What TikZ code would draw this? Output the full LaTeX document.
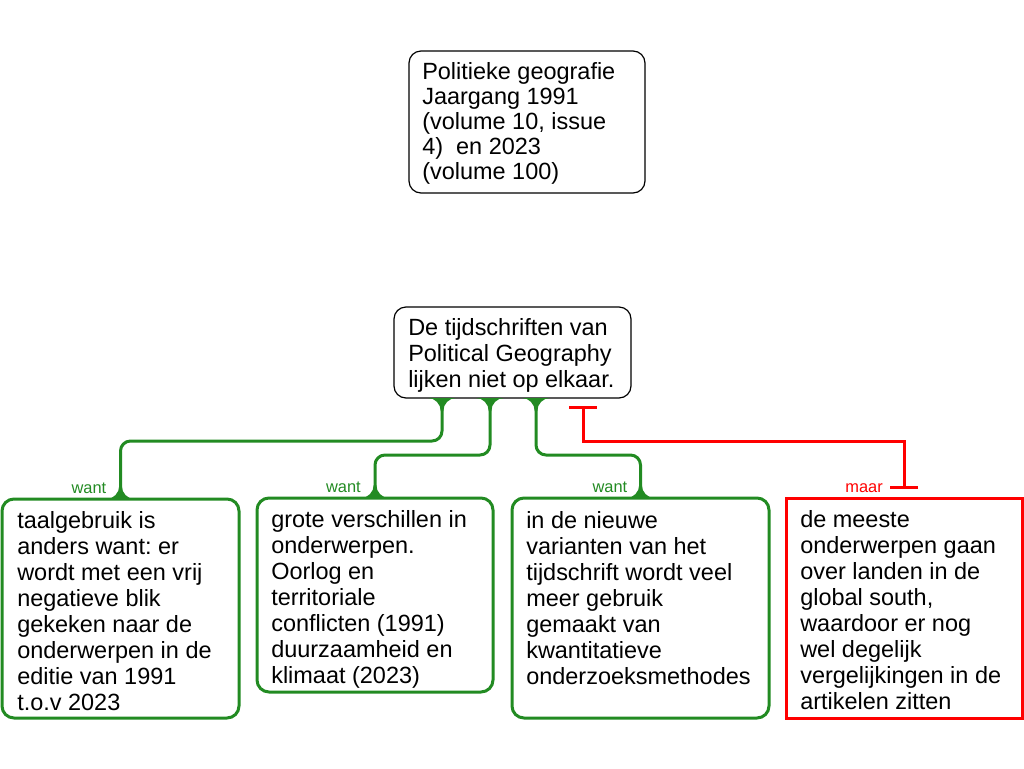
\documentclass[tikz,border=0pt]{standalone}
\usepackage{fontspec}
\setmainfont{Liberation Sans}
\usetikzlibrary{calc,arrows.meta}
\definecolor{wantgreen}{RGB}{34,139,34}
\definecolor{maarred}{RGB}{255,0,0}
\frenchspacing
\tikzset{
  boxbase/.style={draw,inner sep=0pt,outer sep=0pt},
  blackbox/.style={boxbase,draw=black,line width=0.9pt,rounded corners=9pt},
  greenbox/.style={boxbase,draw=wantgreen,line width=2.25pt,rounded corners=9pt},
  redbox/.style={boxbase,draw=maarred,line width=2.25pt},
  txt/.style={anchor=north west,inner sep=0pt,align=left,font=\fontsize{17.6pt}{19.5pt}\selectfont},
  lbl/.style={anchor=base east,inner sep=0pt,font=\fontsize{12.3pt}{14pt}\selectfont},
  wantline/.style={draw=wantgreen,line width=2.25pt,rounded corners=7.5pt},
  maarline/.style={draw=maarred,line width=2.25pt,arrows={Bar[width=21pt]-Bar[width=21pt]}},
  flarefill/.style={fill=wantgreen,draw=none}
}
% flare below a point (stem going down) and above a point (stem going up)
\newcommand\flaredn[1]{\path[flarefill,shift={(#1)}] (-14,0) .. controls (-7,0) and (-1.3,6) .. (-1.3,13) -- (1.3,13) .. controls (1.3,6) and (7,0) .. (14,0) -- cycle;}
\newcommand\flareupp[1]{\path[flarefill,shift={(#1)}] (-14,0) .. controls (-7,0) and (-1.3,-6) .. (-1.3,-13) -- (1.3,-13) .. controls (1.3,-6) and (7,0) .. (14,0) -- cycle;}
\begin{document}
\begin{tikzpicture}[x=0.75pt,y=-0.75pt]
\useasboundingbox[fill=white] (0,0) rectangle (1024,768);

% boxes
\node[blackbox,minimum width=177pt,minimum height=106.5pt] (src) at (527,122) {};
\node[txt,font=\fontsize{17.6pt}{18.75pt}\selectfont] (srctext) at (422,62)
  {Politieke geografie\\Jaargang 1991\\(volume 10, issue\\4)~ en 2023\\(volume 100)};

\node[blackbox,minimum width=177.75pt,minimum height=68.25pt] (claim) at (512.5,352.5) {};
\node[txt] (claimtext) at (408,318)
  {De tijdschriften van\\Political Geography\\lijken niet op elkaar.};

\node[greenbox,minimum width=177.75pt,minimum height=164.25pt] (box1) at (120.5,608.5) {};
\node[txt] (box1text) at (17,511)
  {taalgebruik is\\anders want: er\\wordt met een vrij\\negatieve blik\\gekeken naar de\\onderwerpen in de\\editie van 1991\\t.o.v 2023};

\node[greenbox,minimum width=177pt,minimum height=145.5pt] (box2) at (375,595) {};
\node[txt] (box2text) at (271,510)
  {grote verschillen in\\onderwerpen.\\Oorlog en\\territoriale\\conflicten (1991)\\duurzaamheid en\\klimaat (2023)};

\node[greenbox,minimum width=192.75pt,minimum height=165pt] (box3) at (640.5,608) {};
\node[txt] (box3text) at (526,511)
  {in de nieuwe\\varianten van het\\tijdschrift wordt veel\\meer gebruik\\gemaakt van\\kwantitatieve\\onderzoeksmethodes};

\node[redbox,minimum width=177pt,minimum height=165pt] (box4) at (904,608) {};
\node[txt] (box4text) at (800,510)
  {de meeste\\onderwerpen gaan\\over landen in de\\global south,\\waardoor er nog\\wel degelijk\\vergelijkingen in de\\artikelen zitten};

% connector helpers
\coordinate (h1) at (0,441);
\coordinate (h2) at (0,455);
\coordinate (s1) at ($(claim.south)+(-70.5,0)$);
\coordinate (s2) at ($(claim.south)+(-22.5,0)$);
\coordinate (s3) at ($(claim.south)+(23.5,0)$);
\coordinate (r1) at ($(claim.south)+(70.5,8)$);
\coordinate (r2) at ($(box4.north)+(0,-9)$);

% want connectors
\draw[wantline] (s1) -- (s1 |- h1) -- (box1.north |- h1) -- (box1.north);
\draw[wantline] (s2) -- (s2 |- h2) -- (box2.north |- h2) -- (box2.north);
\draw[wantline] (s3) -- (s3 |- h2) -- (box3.north |- h2) -- (box3.north);
\flaredn{s1}
\flaredn{s2}
\flaredn{s3}
\flareupp{box1.north}
\flareupp{box2.north}
\flareupp{box3.north}

% maar connector
\draw[maarline] (r1) -- (r1 |- h1) -- (r2 |- h1) -- (r2);

% labels
\node[lbl,text=wantgreen] (l1) at ($(box1.north)+(-14,-6)$) {want};
\node[lbl,text=wantgreen] (l2) at ($(box2.north)+(-14,-6)$) {want};
\node[lbl,text=wantgreen] (l3) at ($(box3.north)+(-13,-6)$) {want};
\node[lbl,text=maarred] (l4) at ($(box4.north)+(-21,-6)$) {maar};
\end{tikzpicture}
\end{document}
